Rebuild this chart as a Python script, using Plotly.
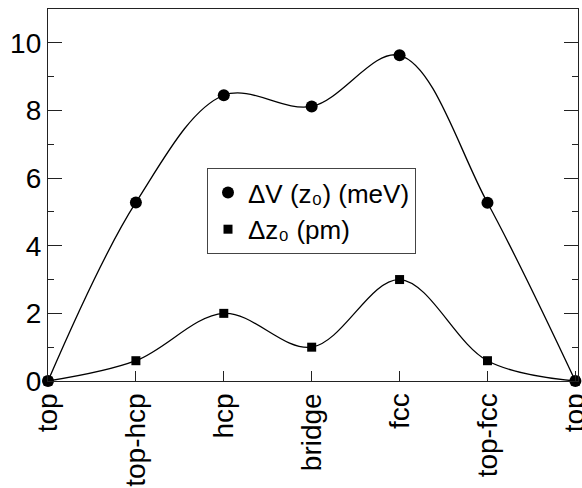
import plotly.graph_objects as go

sites = ["top", "top-hcp", "hcp", "bridge", "fcc", "top-fcc", "top"]
xpos = [0, 1, 2, 3, 4, 5, 6]
dV = [0.0, 5.28, 8.45, 8.12, 9.63, 5.27, 0.0]
dz = [0.0, 0.6, 2.0, 1.0, 3.0, 0.6, 0.0]

fig = go.Figure()
for vals in (dV, dz):
    fig.add_trace(go.Scatter(x=xpos, y=vals, mode="lines",
                             line=dict(color="black", width=1.3, shape="spline", smoothing=1.0),
                             showlegend=False, hoverinfo="skip"))
fig.add_trace(go.Scatter(x=xpos, y=dV, mode="markers", name="ΔV (z₀) (meV)",
                         marker=dict(symbol="circle", size=12, color="black"), cliponaxis=False))
fig.add_trace(go.Scatter(x=xpos, y=dz, mode="markers", name="Δz₀ (pm)",
                         marker=dict(symbol="square", size=9, color="black"), cliponaxis=False))

fig.update_layout(
    width=582, height=488,
    margin=dict(l=48, r=4, t=9, b=107, autoexpand=False),
    paper_bgcolor="white", plot_bgcolor="white",
    font=dict(family="Liberation Sans, Arial, sans-serif", color="black", size=28),
    xaxis=dict(range=[0, 6.03], tickvals=xpos, ticktext=sites, tickangle=-90,
               ticks="inside", ticklen=10, tickcolor="#222", showgrid=False, zeroline=False,
               showline=True, linecolor="#222", linewidth=1.3, mirror=True,
               tickfont=dict(size=28), automargin=False, ticklabeloverflow="allow"),
    yaxis=dict(range=[0, 11], tickvals=[0, 2, 4, 6, 8, 10], ticks="inside", ticklen=14,
               tickcolor="#222", showgrid=False, zeroline=False,
               showline=True, linecolor="#222", linewidth=1.3, mirror="ticks",
               tickfont=dict(size=28), automargin=False, ticklabeloverflow="allow",
               minor=dict(dtick=1, ticks="inside", ticklen=6, tickcolor="#222", showgrid=False)),
    legend=dict(x=(207 - 48) / 530, y=(381 - 168) / 372, xanchor="left", yanchor="top",
                bgcolor="white", bordercolor="#444", borderwidth=1,
                font=dict(size=26), itemwidth=30, tracegroupgap=0),
)

fig.write_html("out.html", config={"displayModeBar": False},
               post_script="document.body.style.margin='0';document.body.style.overflow='hidden';")
